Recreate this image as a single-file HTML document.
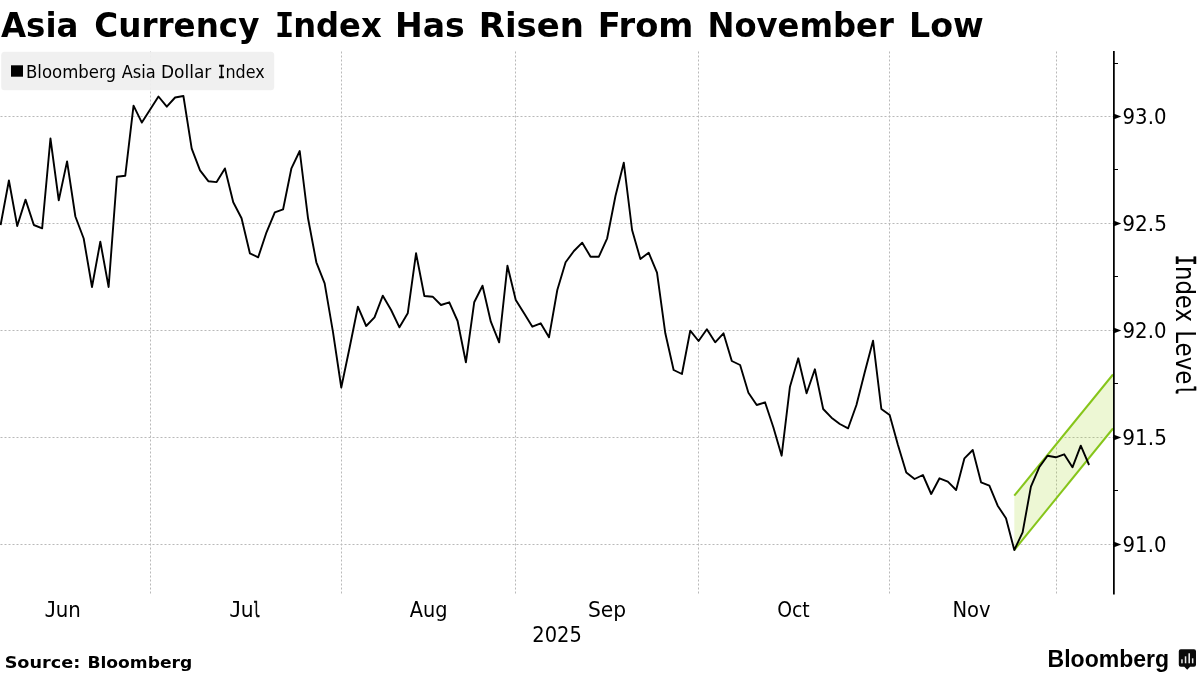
<!DOCTYPE html>
<html lang="en">
<head>
<meta charset="utf-8">
<title>Asia Currency Index Has Risen From November Low</title>
<style>
html,body{margin:0;padding:0;background:#fff;}
body{width:1200px;height:675px;overflow:hidden;}
svg{display:block;}
</style>
</head>
<body>
<svg width="1200" height="675" viewBox="0 0 1200 675">
<rect x="0" y="0" width="1200" height="675" fill="#fff"/>
<g stroke="#b9b9b9" stroke-width="1" stroke-dasharray="2,2" fill="none">
<line x1="150.5" y1="51.5" x2="150.5" y2="593.5"/>
<line x1="341.5" y1="51.5" x2="341.5" y2="593.5"/>
<line x1="515.5" y1="51.5" x2="515.5" y2="593.5"/>
<line x1="698.5" y1="51.5" x2="698.5" y2="593.5"/>
<line x1="889.5" y1="51.5" x2="889.5" y2="593.5"/>
<line x1="1056.5" y1="51.5" x2="1056.5" y2="593.5"/>
<line x1="0.5" y1="116.5" x2="1113" y2="116.5"/>
<line x1="0.5" y1="223.5" x2="1113" y2="223.5"/>
<line x1="0.5" y1="330.5" x2="1113" y2="330.5"/>
<line x1="0.5" y1="437.5" x2="1113" y2="437.5"/>
<line x1="0.5" y1="544.5" x2="1113" y2="544.5"/>
</g>
<rect x="1.2" y="51.8" width="273" height="38.4" rx="3.5" ry="3.5" fill="#efefef" fill-opacity="0.94"/>
<rect x="11" y="65.3" width="12" height="11.4" fill="#000"/>
<polygon points="1014.3,495.7 1113,374.5 1113,428.5 1014.3,550" fill="#a5d728" fill-opacity="0.2"/>
<g stroke="#86c51a" stroke-width="2" fill="none"><line x1="1014.3" y1="495.7" x2="1113" y2="374.5"/><line x1="1014.3" y1="550" x2="1113" y2="428.5"/></g>
<polyline points="0.6,225 8.91,180.5 17.22,226 25.53,199.6 33.84,225 42.14,228.3 50.45,138.5 58.76,200.3 67.07,161.4 75.38,216.5 83.69,238.5 92,287 100.31,241.7 108.62,287 116.93,176.7 125.23,175.8 133.54,105.7 141.85,122.6 150.16,109.5 158.47,96.5 166.78,106.7 175.09,97.5 183.4,96 191.71,148.7 200.02,170.3 208.32,181.2 216.63,182.1 224.94,168.4 233.25,202.3 241.56,218.3 249.87,253.3 258.18,257.3 266.49,232.3 274.8,212.3 283.11,209.3 291.42,168.3 299.72,151 308.03,218.3 316.34,262.3 324.65,283.3 332.96,331.9 341.27,387.5 349.58,347.8 357.89,306.7 366.2,326 374.5,317.3 382.81,295.7 391.12,310 399.43,327.3 407.74,313.3 416.05,253.3 424.36,296 432.67,296.7 440.98,305 449.29,302.3 457.59,321 465.9,362.3 474.21,302.3 482.52,285.7 490.83,321.7 499.14,342.3 507.45,265.7 515.76,300 524.07,313.3 532.38,326.7 540.68,323.3 548.99,337.3 557.3,290 565.61,262.3 573.92,251 582.23,242.7 590.54,256.7 598.85,256.7 607.16,238.3 615.47,196 623.77,162.7 632.08,230 640.39,259 648.7,252.7 657.01,272.7 665.32,333.3 673.63,370 681.94,374 690.25,330.7 698.56,341 706.87,329.3 715.17,342.3 723.48,333.3 731.79,361 740.1,365 748.41,392.7 756.72,405 765.03,402.3 773.34,427.3 781.65,455.7 789.95,386.7 798.26,358.3 806.57,393.3 814.88,369.3 823.19,409 831.5,417.7 839.81,424 848.12,428.3 856.43,405 864.74,372.3 873.04,340.7 881.35,409 889.66,415 897.97,445 906.28,472.5 914.59,479 922.9,475 931.21,494 939.52,478.3 947.83,481.7 956.13,490 964.44,458.3 972.75,450 981.06,482.3 989.37,485.7 997.68,505.7 1005.99,518.3 1014.3,550 1022.61,532.3 1030.92,486.7 1039.22,467.3 1047.53,455.7 1055.84,457.3 1064.15,454.3 1072.46,467.3 1080.77,445.7 1089.08,465" fill="none" stroke="#000" stroke-width="1.9" stroke-linejoin="round" stroke-linecap="butt"/>
<rect x="1113" y="51" width="1.75" height="543.5" fill="#000"/>
<rect x="1114" y="63.0" width="4" height="1" fill="#000"/>
<rect x="1114" y="169.0" width="4" height="1" fill="#000"/>
<rect x="1114" y="276.0" width="4" height="1" fill="#000"/>
<rect x="1114" y="383.0" width="4" height="1" fill="#000"/>
<rect x="1114" y="490.0" width="4" height="1" fill="#000"/>
<polygon points="1114,113.8 1121.3,116.5 1114,119.2" fill="#000"/>
<polygon points="1114,220.8 1121.3,223.5 1114,226.2" fill="#000"/>
<polygon points="1114,327.8 1121.3,330.5 1114,333.2" fill="#000"/>
<polygon points="1114,434.8 1121.3,437.5 1114,440.2" fill="#000"/>
<polygon points="1114,541.8 1121.3,544.5 1114,547.2" fill="#000"/>
<text id="title" y="36.5" font-family="'DejaVu Sans','Liberation Sans',sans-serif" font-weight="bold" font-size="33.5" fill="#000"><tspan x="1" textLength="77.49" lengthAdjust="spacingAndGlyphs">Asia</tspan> <tspan x="94.25" textLength="165.19" lengthAdjust="spacingAndGlyphs">Currency</tspan> <tspan x="274.75" font-family="'DejaVu Sans Mono','Liberation Mono',monospace" textLength="19.64" lengthAdjust="spacingAndGlyphs">I</tspan><tspan x="293.15" textLength="88.57" lengthAdjust="spacingAndGlyphs">ndex</tspan> <tspan x="395" textLength="69.79" lengthAdjust="spacingAndGlyphs">Has</tspan> <tspan x="478.75" textLength="105.17" lengthAdjust="spacingAndGlyphs">Risen</tspan> <tspan x="597.75" textLength="95.7" lengthAdjust="spacingAndGlyphs">From</tspan> <tspan x="707.5" textLength="186.37" lengthAdjust="spacingAndGlyphs">November</tspan> <tspan x="909" textLength="74.74" lengthAdjust="spacingAndGlyphs">Low</tspan></text>
<text id="legend" y="77.6" font-family="'DejaVu Sans Condensed','DejaVu Sans','Liberation Sans',sans-serif" font-weight="normal" font-size="17" fill="#000"><tspan x="26" textLength="90.01" lengthAdjust="spacingAndGlyphs">Bloomberg</tspan> <tspan x="121.75" textLength="34.06" lengthAdjust="spacingAndGlyphs">Asia</tspan> <tspan x="161" textLength="50.29" lengthAdjust="spacingAndGlyphs">Dollar</tspan> <tspan x="218" font-family="'DejaVu Sans Mono','Liberation Mono',monospace" stroke="#000" stroke-width="0.4" textLength="7.04" lengthAdjust="spacingAndGlyphs">I</tspan><tspan x="225.45" textLength="39.14" lengthAdjust="spacingAndGlyphs">ndex</tspan></text>
<text id="jun" y="616.7" font-family="'DejaVu Sans Condensed','DejaVu Sans','Liberation Sans',sans-serif" font-weight="normal" font-size="21.3" fill="#000"><tspan x="44.5" font-family="'DejaVu Sans Mono','Liberation Mono',monospace" textLength="12.22" lengthAdjust="spacingAndGlyphs">J</tspan><tspan x="55.65" textLength="25.06" lengthAdjust="spacingAndGlyphs">un</tspan></text>
<text id="jul" y="616.7" font-family="'DejaVu Sans Condensed','DejaVu Sans','Liberation Sans',sans-serif" font-weight="normal" font-size="21.3" fill="#000"><tspan x="229.15" font-family="'DejaVu Sans Mono','Liberation Mono',monospace" textLength="12.52" lengthAdjust="spacingAndGlyphs">J</tspan><tspan x="240.65" textLength="12.88" lengthAdjust="spacingAndGlyphs">u</tspan><tspan x="253.25" font-family="'DejaVu Sans Mono','Liberation Mono',monospace" stroke="#000" stroke-width="0.7" textLength="7.11" lengthAdjust="spacingAndGlyphs">l</tspan></text>
<text x="409.75" y="616.7" textLength="37.7" lengthAdjust="spacingAndGlyphs" font-family="'DejaVu Sans Condensed','DejaVu Sans','Liberation Sans',sans-serif" font-weight="normal" font-size="21.3" fill="#000">Aug</text>
<text x="587.9" y="616.7" textLength="38.21" lengthAdjust="spacingAndGlyphs" font-family="'DejaVu Sans Condensed','DejaVu Sans','Liberation Sans',sans-serif" font-weight="normal" font-size="21.3" fill="#000">Sep</text>
<text x="777.15" y="616.7" textLength="32.59" lengthAdjust="spacingAndGlyphs" font-family="'DejaVu Sans Condensed','DejaVu Sans','Liberation Sans',sans-serif" font-weight="normal" font-size="21.3" fill="#000">Oct</text>
<text x="952.4" y="616.7" textLength="38.21" lengthAdjust="spacingAndGlyphs" font-family="'DejaVu Sans Condensed','DejaVu Sans','Liberation Sans',sans-serif" font-weight="normal" font-size="21.3" fill="#000">Nov</text>
<text x="532.35" y="642" textLength="49.47" lengthAdjust="spacingAndGlyphs" font-family="'DejaVu Sans Condensed','DejaVu Sans','Liberation Sans',sans-serif" font-weight="normal" font-size="21.5" fill="#000">2025</text>
<text x="1122.6" y="123.9" textLength="43.84" lengthAdjust="spacingAndGlyphs" font-family="'DejaVu Sans Condensed','DejaVu Sans','Liberation Sans',sans-serif" font-weight="normal" font-size="21.5" fill="#000">93.0</text>
<text x="1122.35" y="230.9" textLength="44.6" lengthAdjust="spacingAndGlyphs" font-family="'DejaVu Sans Condensed','DejaVu Sans','Liberation Sans',sans-serif" font-weight="normal" font-size="21.5" fill="#000">92.5</text>
<text x="1122.6" y="337.9" textLength="43.84" lengthAdjust="spacingAndGlyphs" font-family="'DejaVu Sans Condensed','DejaVu Sans','Liberation Sans',sans-serif" font-weight="normal" font-size="21.5" fill="#000">92.0</text>
<text x="1122.35" y="444.9" textLength="44.6" lengthAdjust="spacingAndGlyphs" font-family="'DejaVu Sans Condensed','DejaVu Sans','Liberation Sans',sans-serif" font-weight="normal" font-size="21.5" fill="#000">91.5</text>
<text x="1122.6" y="551.9" textLength="43.84" lengthAdjust="spacingAndGlyphs" font-family="'DejaVu Sans Condensed','DejaVu Sans','Liberation Sans',sans-serif" font-weight="normal" font-size="21.5" fill="#000">91.0</text>
<text id="source" y="667.5" font-family="'DejaVu Sans','Liberation Sans',sans-serif" font-weight="bold" font-size="16.7" fill="#000"><tspan x="4.65" textLength="75.73" lengthAdjust="spacingAndGlyphs">Source:</tspan> <tspan x="87.4" textLength="104.93" lengthAdjust="spacingAndGlyphs">Bloomberg</tspan></text>
<text id="axis" transform="translate(1175.6,0) rotate(90)" y="0" font-family="'DejaVu Sans Condensed','DejaVu Sans','Liberation Sans',sans-serif" font-weight="normal" font-size="27" fill="#000"><tspan x="255" font-family="'DejaVu Sans Mono','Liberation Mono',monospace" stroke="#000" stroke-width="0.5" textLength="10.7" lengthAdjust="spacingAndGlyphs">I</tspan><tspan x="266" textLength="55.86" lengthAdjust="spacingAndGlyphs">ndex</tspan> <tspan x="330.2" textLength="54.33" lengthAdjust="spacingAndGlyphs">Leve</tspan><tspan x="385.45" font-family="'DejaVu Sans Mono','Liberation Mono',monospace" stroke="#000" stroke-width="0.7" textLength="9.23" lengthAdjust="spacingAndGlyphs">l</tspan></text>
<text x="1047.5" y="667" textLength="121.66" lengthAdjust="spacingAndGlyphs" font-family="'Liberation Sans',sans-serif" font-weight="bold" font-size="24.3" fill="#000">Bloomberg</text>
<g><path d="M1180.8 649.3h13.2a2 2 0 0 1 2 2v13.4a2 2 0 0 1 -2 2h-3.9l-2.9 3.1l-2.9-3.1h-3.5a2 2 0 0 1 -2-2v-13.4a2 2 0 0 1 2-2z" fill="#0a0a0a"/><rect x="1181.2" y="659.3" width="1.5" height="4" fill="#e8e8e8"/><rect x="1184.8" y="656.3" width="1.5" height="7" fill="#e8e8e8"/><rect x="1188.4" y="653.3" width="1.6" height="10" fill="#e8e8e8"/><rect x="1191.9" y="658.3" width="1.5" height="5" fill="#e8e8e8"/></g>
</svg>
</body>
</html>
